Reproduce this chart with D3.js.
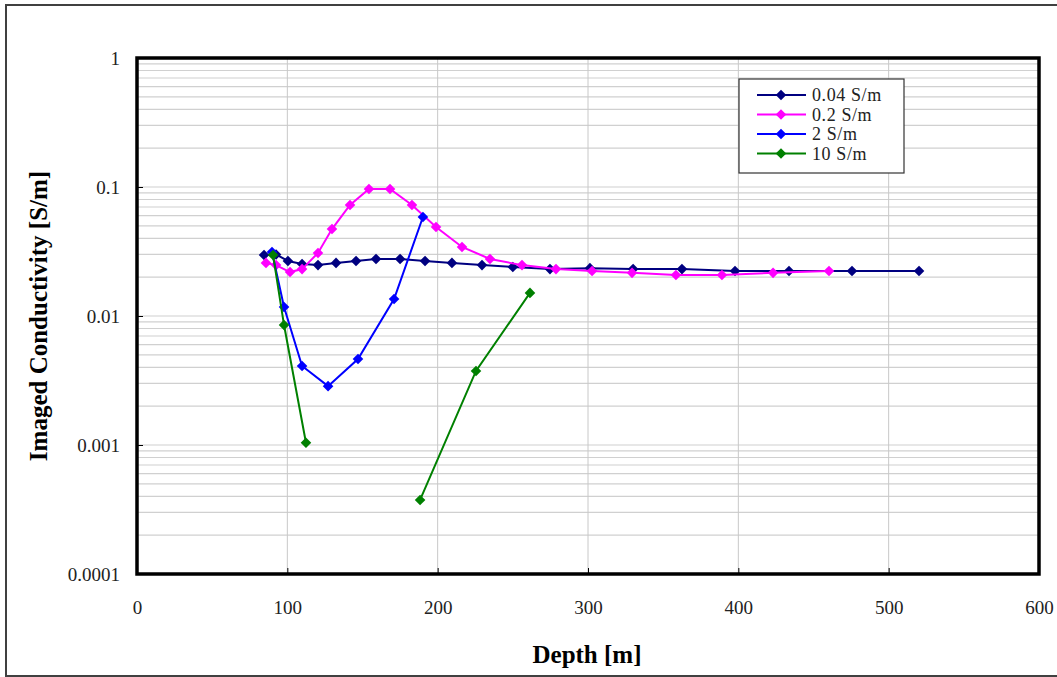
<!DOCTYPE html>
<html><head><meta charset="utf-8">
<script src="https://cdn.jsdelivr.net/npm/d3@7"></script>
<style>body{margin:0;background:#fff}svg{display:block}</style>
</head><body>
<svg id="c" width="1057" height="677"></svg>
<script>
const xTicks = [0,100,200,300,400,500,600];
const yTicks = [1,0.1,0.01,0.001,0.0001];
const yTickLabels = ["1","0.1","0.01","0.001","0.0001"];
const seriesNames = ["0.04 S/m","0.2 S/m","2 S/m","10 S/m"];
const seriesColors = ["#000080","#ff00ff","#0000ff","#008000"];

const depth004 = [84.5,92.5,100.4,109.8,120.4,132.4,145.7,159,175,191.6,209.5,229.5,250,274.7,301.3,330,362.5,397.8,433.7,475.6,520.2];
const cond004  = [0.0297,0.0300,0.0267,0.0253,0.0248,0.0258,0.0267,0.0277,0.0277,0.0267,0.0258,0.0248,0.0240,0.0231,0.0235,0.0231,0.0231,0.0223,0.0223,0.0223,0.0223];

const depth02 = [85.8,92.5,101.8,109.8,120.4,129.7,141.7,154.3,168.3,182.9,198.9,216.2,234.8,256.1,278.7,302.7,329.3,358.5,389.1,423.1,460.3];
const cond02  = [0.0258,0.0248,0.0219,0.0231,0.0308,0.0472,0.0725,0.0965,0.0965,0.0725,0.0490,0.0343,0.0277,0.0248,0.0231,0.0223,0.0216,0.0208,0.0208,0.0216,0.0223];

const depth2 = [89.8,97.8,109.8,127.1,147,171,190.2];
const cond2  = [0.0313,0.01174,0.00410,0.00286,0.00464,0.01355,0.0585];

const depth10 = [90.5,97.8,112.4,150,188.3,225.5,261.4];
const cond10  = [0.0297,0.00851,0.00104,null,0.000375,0.00375,0.0151];

const series = [
  {name:seriesNames[0], color:seriesColors[0], xs:depth004, ys:cond004},
  {name:seriesNames[1], color:seriesColors[1], xs:depth02, ys:cond02},
  {name:seriesNames[2], color:seriesColors[2], xs:depth2, ys:cond2},
  {name:seriesNames[3], color:seriesColors[3], xs:depth10, ys:cond10}
];

const svg = d3.select("#c");
const font = "'Liberation Serif','DejaVu Serif',serif";
const L=137, R=1039, T=58, B=574;
const x = d3.scaleLinear().domain([0,600]).range([L,R]);
const y = d3.scaleLog().domain([0.0001,1]).range([B,T]);

// outer frame
svg.append("path").attr("d",`M1060,5 H6 V676 H1060`).attr("fill","none").attr("stroke","#404040").attr("stroke-width",2);

// minor gridlines
const minor=[];
for(let e=-4;e<0;e++){for(let m=1;m<10;m++){minor.push(m*Math.pow(10,e));}}
svg.append("g").selectAll("line").data(minor).join("line")
  .attr("x1",L).attr("x2",R).attr("y1",d=>y(d)).attr("y2",d=>y(d))
  .attr("stroke","#d0d0d0").attr("stroke-width",1.2);
svg.append("g").selectAll("line").data(xTicks.slice(1,-1)).join("line")
  .attr("y1",T).attr("y2",B).attr("x1",d=>x(d)).attr("x2",d=>x(d))
  .attr("stroke","#c8c8c8").attr("stroke-width",1);

// axes ticks
const yAxis = d3.axisLeft(y).tickValues(yTicks).tickSize(-6).tickPadding(17)
  .tickFormat((d,i)=>yTickLabels[i]);
const gy = svg.append("g").attr("transform",`translate(${L},0)`).call(yAxis);
const xAxis = d3.axisBottom(x).tickValues(xTicks).tickSize(-6).tickPadding(27).tickFormat(d3.format("d"));
const gx = svg.append("g").attr("transform",`translate(0,${B})`).call(xAxis);
[gx,gy].forEach(g=>{
  g.attr("font-family",font);
  g.select(".domain").remove();
  g.selectAll(".tick line").attr("stroke","#000");
  g.selectAll("text").attr("font-family",font).attr("font-size",19).attr("fill","#222");
});

// plot frame
svg.append("rect").attr("x",L).attr("y",T).attr("width",R-L).attr("height",B-T)
  .attr("fill","none").attr("stroke","#000").attr("stroke-width",3.5);

// series
series.forEach(s=>{
  const pts = s.xs.map((d,i)=>({x:d,y:s.ys[i]}));
  const line = d3.line().defined(d=>d.y!=null).x(d=>x(d.x)).y(d=>y(d.y));
  svg.append("path").datum(pts).attr("d",line).attr("fill","none")
    .attr("stroke",s.color).attr("stroke-width",2);
  svg.append("g").selectAll("path").data(pts.filter(d=>d.y!=null)).join("path")
    .attr("d",d3.symbol().type(d3.symbolSquare).size(56))
    .attr("transform",d=>`translate(${x(d.x)},${y(d.y)}) rotate(45)`)
    .attr("fill",s.color);
});

// legend
const lg = svg.append("g");
lg.append("rect").attr("x",739).attr("y",79).attr("width",165).attr("height",94)
  .attr("fill","#fff").attr("stroke","#333").attr("stroke-width",1.2);
series.forEach((s,i)=>{
  const yy = 95 + i*19.5;
  lg.append("line").attr("x1",757).attr("x2",806).attr("y1",yy).attr("y2",yy)
    .attr("stroke",s.color).attr("stroke-width",2);
  lg.append("path").attr("d",d3.symbol().type(d3.symbolSquare).size(56))
    .attr("transform",`translate(781,${yy}) rotate(45)`).attr("fill",s.color);
  lg.append("text").attr("x",812).attr("y",yy+6).text(s.name)
    .attr("font-family",font).attr("font-size",18).attr("letter-spacing",0.6).attr("fill","#222");
});

// axis titles
svg.append("text").attr("x",587).attr("y",663).attr("text-anchor","middle")
  .attr("font-family",font).attr("font-weight","bold").attr("font-size",25).text("Depth [m]");
svg.append("text").attr("transform","translate(47,316) rotate(-90)").attr("text-anchor","middle")
  .attr("font-family",font).attr("font-weight","bold").attr("font-size",25).text("Imaged Conductivity [S/m]");
</script>
</body></html>
